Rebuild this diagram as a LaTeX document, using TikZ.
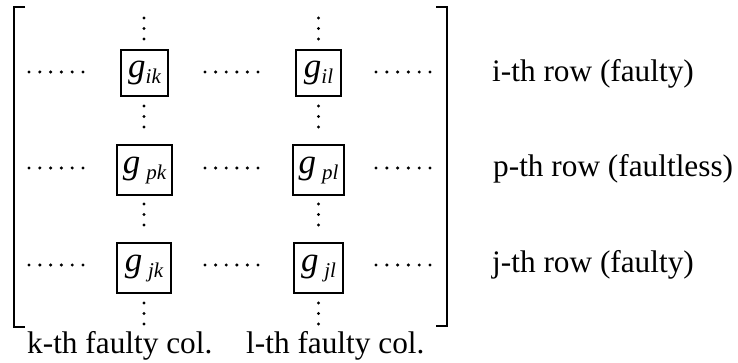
\documentclass[tikz,border=0pt]{standalone}
\usepackage{fontspec}
\setmainfont{Liberation Serif}
\begin{document}
\begin{tikzpicture}[x=1pt,y=-1pt,
  cell/.style={draw,line width=1.4pt,inner sep=0pt,anchor=center},
  lbl/.style={inner sep=0pt,anchor=base west,font=\fontsize{31.3}{38}\selectfont},
  brk/.style={line width=1.6pt},
  dotc/.style={fill=black}]
\useasboundingbox (0,0) rectangle (738,363);
\newcommand{\gel}[2]{\fontsize{35}{40}\selectfont\itshape g#1\raisebox{-6pt}{\fontsize{21}{24}\selectfont #2}}
% brackets
\draw[brk] (25,7) -- (14,7) -- (14,327) -- (25,327);
\draw[brk] (436,7) -- (447,7) -- (447,326) -- (436,326);
% boxes
\node[cell,minimum width=47pt,minimum height=46pt] (ik) at (144.5,73) {\gel{}{ik}};
\node[cell,minimum width=45pt,minimum height=46pt] (il) at (318.5,73) {\gel{}{il}};
\node[cell,minimum width=55pt,minimum height=50pt] (pk) at (144.5,170) {\gel{\,}{pk}};
\node[cell,minimum width=51pt,minimum height=50pt] (pl) at (318.5,170) {\gel{\,}{pl}};
\node[cell,minimum width=54pt,minimum height=50pt] (jk) at (144,268) {\gel{\,}{jk}};
\node[cell,minimum width=49pt,minimum height=50pt] (jl) at (318.5,268) {\gel{\,}{jl}};
% horizontal dots
\foreach \y in {72,168,265}{
  \foreach \i in {0,...,5}{
    \fill[dotc] (29+10.8*\i,\y) circle (1.7);
    \fill[dotc] (205+10.6*\i,\y) circle (1.7);
    \fill[dotc] (376+10.8*\i,\y) circle (1.7);
  }
}
% vertical dots
\foreach \x in {144,318.5}{
  \foreach \y in {18,106,204,303}{
    \foreach \i in {0,1,2}{
      \fill[dotc] (\x,\y+10.5*\i) circle (1.7);
    }
  }
}
% labels
\node[lbl] (ri) at (492,82) {i-th row (faulty)};
\node[lbl] (rp) at (493,177) {p-th row (faultless)};
\node[lbl] (rj) at (492,272) {j-th row (faulty)};
\node[lbl] (ck) at (27,353) {k-th faulty col.};
\node[lbl] (cl) at (246,353) {l-th faulty col.};
\end{tikzpicture}
\end{document}
